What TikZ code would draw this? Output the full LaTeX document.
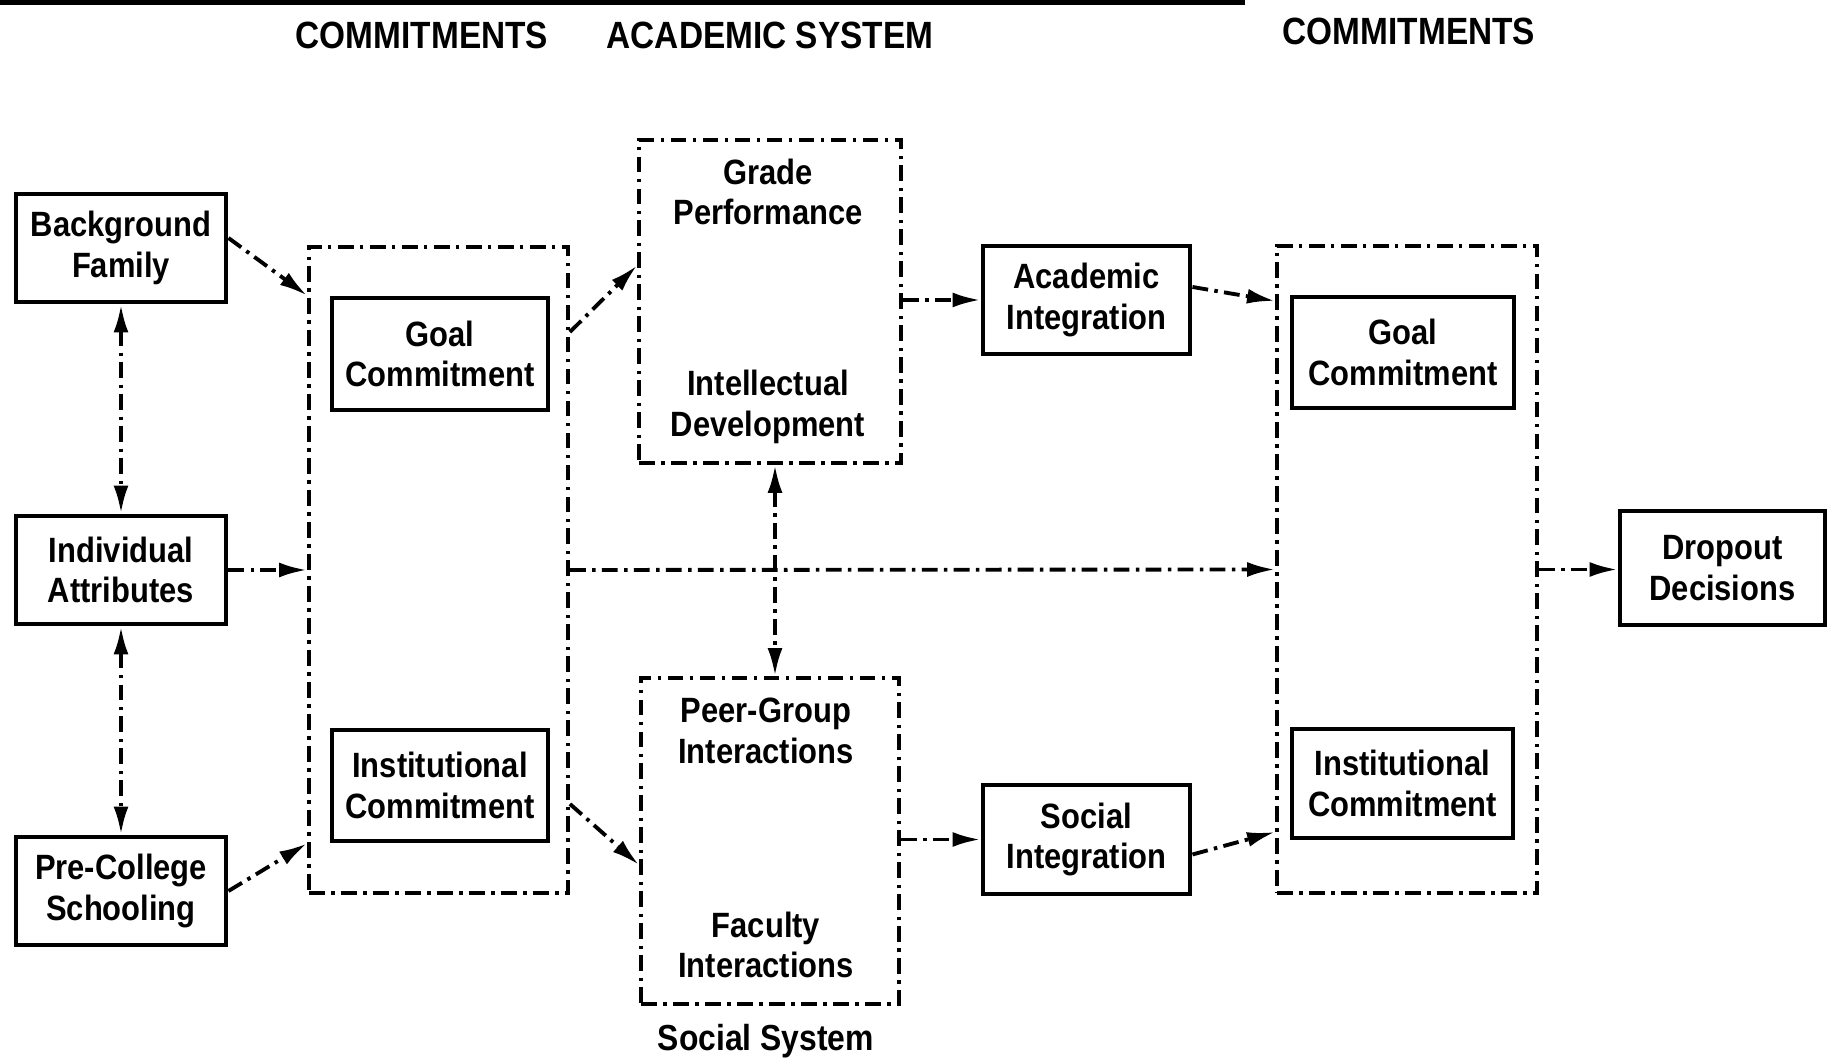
\documentclass[tikz,border=0pt]{standalone}
\usepackage{fontspec}
\setmainfont{Liberation Sans}[FakeStretch=0.88]
\usetikzlibrary{positioning,arrows.meta}
\tikzset{
>={Latex[length=2.8mm,width=1.5mm]},
  factor/.style={
    rectangle,
    draw=black, line width=1.4pt,
    minimum width=2.1cm,
    minimum height=1.08cm,
    inner sep=1pt,
    align=center,
    font=\fontsize{10}{11.6}\selectfont\bfseries},
  sysframe/.style={
    rectangle,
    draw=black, line width=1.1pt,
    dash pattern=on 4.5pt off 1.8pt on 1pt off 1.8pt},
  systext/.style={
    align=center,
    font=\fontsize{10}{11.6}\selectfont\bfseries},
  heading/.style={font=\fontsize{10.8}{13}\selectfont\bfseries},
  link/.style={->, line width=1.1pt, dash pattern=on 4.5pt off 1.8pt on 1pt off 1.8pt},
  twoway/.style={<->, line width=1.1pt, dash pattern=on 4.5pt off 1.8pt on 1pt off 1.8pt},
}
\begin{document}
\begin{tikzpicture}
  [node distance=.8cm]
  \useasboundingbox (0,0) rectangle (18.28,10.63);
  % rule left over at the top of the page
  \draw[line width=1.5pt] (0,10.61) -- (12.45,10.61);
  % headings
  \node[heading] (hcommit) at (4.22,10.28) {COMMITMENTS};
  \node[heading] (hacad) at (7.70,10.28) {ACADEMIC SYSTEM};
  \node[heading] (hcommit2) at (14.09,10.32) {COMMITMENTS};
  % background of the student
  \node[factor] (family) at (1.21,8.15) {Background\\Family};
  \node[factor] (attrib) at (1.21,4.93) {Individual\\Attributes};
  \node[factor] (school) at (1.21,1.72) {Pre-College\\Schooling};
  % first commitments
  \node[sysframe, minimum width=2.59cm, minimum height=6.46cm] (commit) at (4.385,4.93) {};
  \node[factor, minimum width=2.16cm, minimum height=1.12cm] (goal) at (4.40,7.09) {Goal\\Commitment};
  \node[factor, minimum width=2.16cm, minimum height=1.11cm] (inst) at (4.40,2.775) {Institutional\\Commitment};
  % academic and social system
  \node[sysframe, minimum width=2.62cm, minimum height=3.23cm] (acad) at (7.70,7.615) {};
  \node[systext] (grade) at (7.68,8.71) {Grade\\Performance};
  \node[systext] (intel) at (7.68,6.56) {Intellectual\\Development};
  \node[sysframe, minimum width=2.58cm, minimum height=3.26cm] (social) at (7.70,2.22) {};
  \node[systext] (peer) at (7.66,3.32) {Peer-Group\\Interactions};
  \node[systext] (faculty) at (7.66,1.18) {Faculty\\Interactions};
  \node[heading, font=\fontsize{10.3}{12}\selectfont\bfseries] (hsocial) at (7.66,0.22) {Social System};
  % integration
  \node[factor, minimum width=2.07cm] (acint) at (10.865,7.63) {Academic\\Integration};
  \node[factor, minimum width=2.07cm, minimum height=1.09cm] (socint) at (10.865,2.235) {Social\\Integration};
  % later commitments
  \node[sysframe, minimum width=2.60cm, minimum height=6.47cm] (commit2) at (14.07,4.935) {};
  \node[factor, minimum width=2.22cm, minimum height=1.11cm] (goal2) at (14.03,7.105) {Goal\\Commitment};
  \node[factor, minimum width=2.21cm, minimum height=1.09cm] (inst2) at (14.025,2.795) {Institutional\\Commitment};
  % outcome
  \node[factor, minimum width=2.05cm, minimum height=1.14cm] (drop) at (17.225,4.95) {Dropout\\Decisions};
  %% the arrows, left to right
  \draw[twoway] (family) -- (attrib);
  \draw[twoway] (attrib) -- (school);
  \draw[link] ([yshift=1mm]family.east) -- (commit.west |- goal.north);
  \draw[link] (attrib.east) -- (commit.west);
  \draw[link] (school.east) -- (commit.west |- inst.south);
  \draw[link] (commit.east |- 0,7.31) -- ([yshift=3.6mm]acad.west);
  \draw[link] (commit.east |- 0,2.59) -- ([yshift=-2.4mm]social.west);
  \draw[twoway] (acad.south -| 7.75,0) -- (social.north -| 7.75,0);
  \draw[link] (acad.east |- acint.west) -- (acint.west);
  \draw[link] (social.east |- socint.west) -- (socint.west);
  \draw[link] ([yshift=1.3mm]acint.east) -- (commit2.west |- 0,7.62);
  \draw[link] ([yshift=-1.5mm]socint.east) -- (commit2.west |- 0,2.31);
  \draw[link] (commit.east) -- (commit2.west);
  \draw[link] (commit2.east) -- (commit2.east -| drop.west);
\end{tikzpicture}
\end{document}
